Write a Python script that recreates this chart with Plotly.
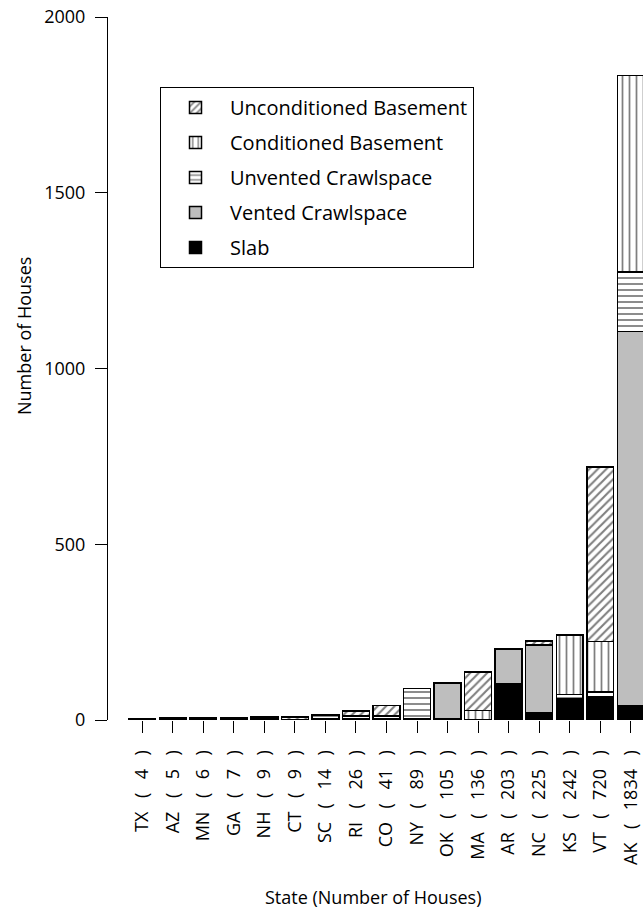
import plotly.graph_objects as go

states = ["TX", "AZ", "MN", "GA", "NH", "CT", "SC", "RI", "CO", "NY",
          "OK", "MA", "AR", "NC", "KS", "VT", "AK"]
totals = [4, 5, 6, 7, 9, 9, 14, 26, 41, 89, 105, 136, 203, 225, 242, 720, 1834]

slab =          [4, 5, 6, 7, 4, 2, 4, 3, 4, 0, 3, 2, 102, 21, 60, 66, 40]
vented =        [0, 0, 0, 0, 0, 0, 0, 0, 0, 3, 102, 0, 98, 193, 0, 0, 1065]
unvented =      [0, 0, 0, 0, 5, 0, 10, 8, 8, 86, 0, 0, 3, 0, 13, 13, 170]
conditioned =   [0, 0, 0, 0, 0, 0, 0, 0, 0, 0, 0, 25, 0, 0, 169, 144, 559]
unconditioned = [0, 0, 0, 0, 0, 7, 0, 15, 29, 0, 0, 109, 0, 11, 0, 497, 0]

SP = "\u2002\u2005"
tick_labels = [f"{s}{SP}({SP}{t}{SP})" for s, t in zip(states, totals)]
x_idx = list(range(len(states)))

FONT = "Open Sans"
LINE = dict(color="black", width=1.5)

series = [
    ("Slab", slab, dict(color="black")),
    ("Vented Crawlspace", vented, dict(color="#bebebe")),
    ("Unvented Crawlspace", unvented,
     dict(color="white", pattern=dict(shape="-", fgcolor="black", bgcolor="white", size=6, solidity=0.3))),
    ("Conditioned Basement", conditioned,
     dict(color="white", pattern=dict(shape="|", fgcolor="black", bgcolor="white", size=7, solidity=0.25))),
    ("Unconditioned Basement", unconditioned,
     dict(color="white", pattern=dict(shape="/", fgcolor="black", bgcolor="white", size=6, solidity=0.35))),
]

fig = go.Figure()
n = len(series)
for i, (name, vals, mk) in enumerate(series):
    mk = dict(mk)
    mk["line"] = LINE
    fig.add_trace(go.Bar(x=x_idx, y=[v if v else None for v in vals], name=name,
                         legendgroup=name, legendrank=n - i,
                         marker=mk, width=0.88))

W, H = 643, 911
L, T, B = 108, 17, 191
PW, PH = W - L, H - T - B

def px(sx):
    return (sx - L) / PW

def py(sy):
    return (H - B - sy) / PH

fig.update_layout(
    width=W, height=H,
    margin=dict(l=L, r=0, t=T, b=B, autoexpand=False),
    barmode="stack",
    plot_bgcolor="white", paper_bgcolor="white",
    font=dict(family=FONT, size=17, color="black"),
    showlegend=True,
    legend=dict(
        x=px(160), y=py(87), xanchor="left", yanchor="top",
        bordercolor="black", borderwidth=1, bgcolor="white",
        traceorder="grouped", tracegroupgap=6,
        font=dict(family=FONT, size=20),
        itemwidth=59,
    ),
    annotations=[
        dict(text="Number of Houses", x=px(24), y=py(336), xref="paper", yref="paper",
             textangle=-90, showarrow=False, xanchor="center", yanchor="middle",
             font=dict(family=FONT, size=18)),
        dict(text="State (Number of Houses)", x=px(373), y=py(897), xref="paper", yref="paper",
             showarrow=False, xanchor="center", yanchor="middle",
             font=dict(family=FONT, size=18)),
    ],
)
fig.update_xaxes(
    range=[-1.12, 16.40], tickmode="array", tickvals=x_idx, ticktext=tick_labels,
    tickangle=-90, ticks="outside", ticklen=12, tickcolor="black", tickwidth=1,
    ticklabelstandoff=10, ticklabeloverflow="allow",
    showline=False, showgrid=False, zeroline=False,
    tickfont=dict(family=FONT, size=18),
)
fig.update_yaxes(
    range=[0, 2000], tickvals=[0, 500, 1000, 1500, 2000],
    ticks="outside", ticklen=12, tickcolor="black", tickwidth=1,
    ticklabelstandoff=6, ticklabeloverflow="allow",
    showline=True, linecolor="black", linewidth=1,
    showgrid=False, zeroline=False,
    tickfont=dict(family=FONT, size=18),
)

fig.write_html(
    "out.html",
    config={"displayModeBar": False},
    post_script="document.body.style.margin='0';document.body.style.overflow='hidden';",
)
